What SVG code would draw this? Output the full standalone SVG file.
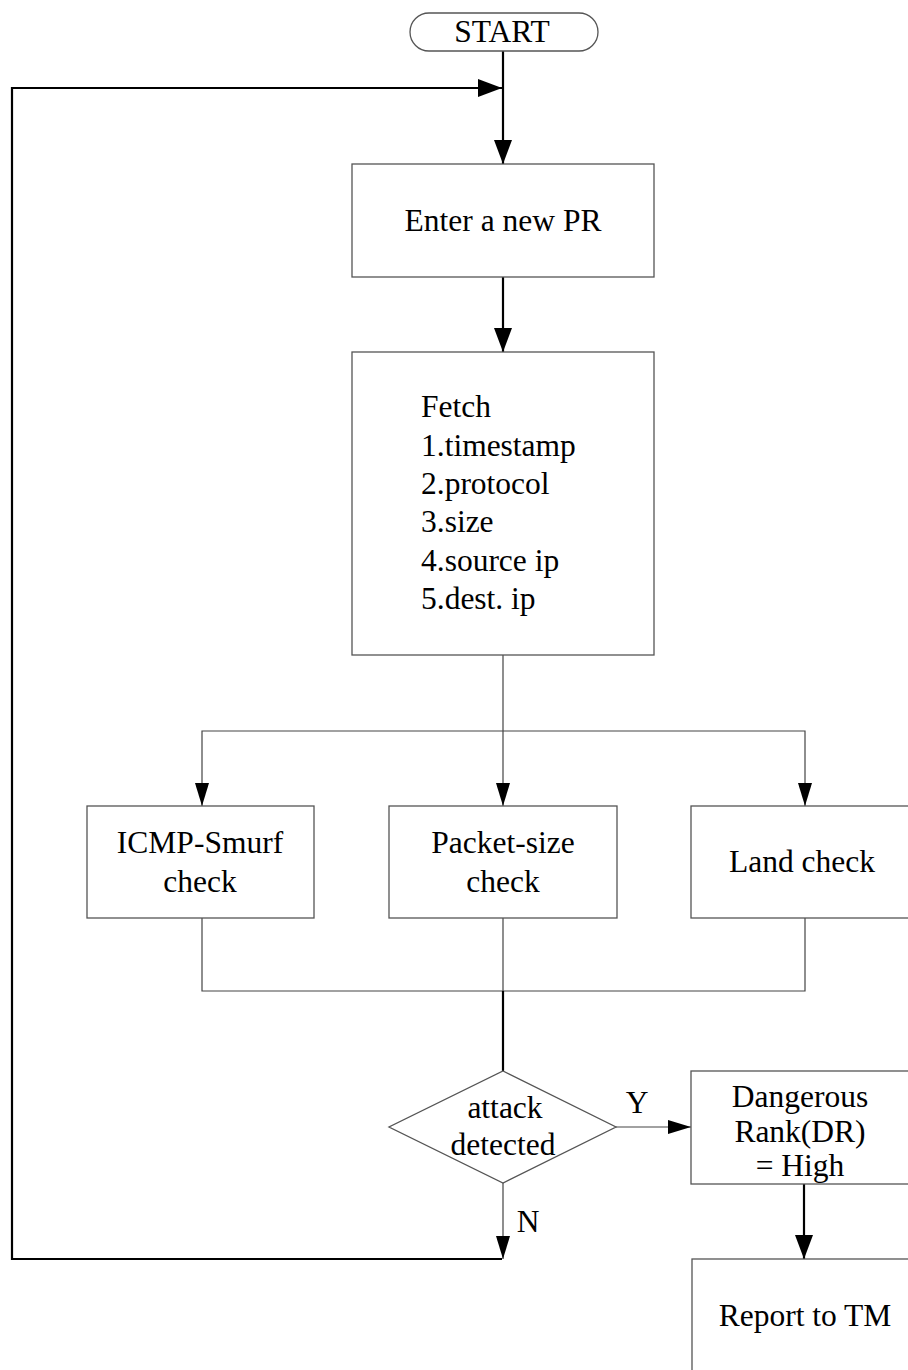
<svg xmlns="http://www.w3.org/2000/svg" width="908" height="1370" viewBox="0 0 908 1370">
  <style>
    .box { fill: #ffffff; stroke: #555555; stroke-width: 1.3; }
    .lbl { font-size: 31.5px; fill: #000000; text-anchor: middle; }
    .left { text-anchor: start; }
    .thin { fill: none; stroke: #444444; stroke-width: 1.2; }
    .thick { fill: none; stroke: #000000; stroke-width: 2.2; }
  </style>
  <defs>
    <marker id="arrow" markerUnits="userSpaceOnUse" markerWidth="24" markerHeight="18" refX="24" refY="9" orient="auto">
      <path d="M0,0 L24,9 L0,18 z" fill="#000000"/>
    </marker>
    <marker id="arrowS" markerUnits="userSpaceOnUse" markerWidth="23" markerHeight="14" refX="23" refY="7" orient="auto">
      <path d="M0,0 L23,7 L0,14 z" fill="#000000"/>
    </marker>
  </defs>

  <rect width="908" height="1370" fill="#ffffff"/>

  <g font-family="Liberation Serif, Tinos, Times New Roman, DejaVu Serif, serif">
  <!-- connectors -->
  <g id="connectors">
    <path class="thick" d="M503,51 V164" marker-end="url(#arrow)"/>
    <path class="thick" d="M502,1259 H12 V88 H502" marker-end="url(#arrow)"/>
    <path class="thick" d="M503,277 V352" marker-end="url(#arrow)"/>
    <path class="thin" d="M503,655 V806" marker-end="url(#arrowS)"/>
    <path class="thin" d="M503,731 H202 V806" marker-end="url(#arrowS)"/>
    <path class="thin" d="M503,731 H805 V806" marker-end="url(#arrowS)"/>
    <path class="thin" d="M202,918 V991 H805 V918"/>
    <path class="thin" d="M503,918 V991"/>
    <path class="thick" d="M503,991 V1071"/>
    <path class="thin" d="M616,1127 H691" marker-end="url(#arrowS)"/>
    <path class="thin" d="M503,1183 V1259" marker-end="url(#arrowS)"/>
    <path class="thick" d="M804,1184 V1259" marker-end="url(#arrow)"/>
    <text class="lbl" x="637" y="1113">Y</text>
    <text class="lbl" x="528" y="1232">N</text>
  </g>

  <g id="start">
    <rect class="box" x="410" y="13" width="188" height="38" rx="19" ry="19"/>
    <text class="lbl" x="502" y="42" font-size="30">START</text>
  </g>

  <g id="enter-pr">
    <rect class="box" x="352" y="164" width="302" height="113"/>
    <text class="lbl" x="503" y="231">Enter a new PR</text>
  </g>

  <g id="fetch">
    <rect class="box" x="352" y="352" width="302" height="303"/>
    <text class="lbl left" x="421" y="417">Fetch</text>
    <text class="lbl left" x="421" y="456">1.timestamp</text>
    <text class="lbl left" x="421" y="494">2.protocol</text>
    <text class="lbl left" x="421" y="532">3.size</text>
    <text class="lbl left" x="421" y="571">4.source ip</text>
    <text class="lbl left" x="421" y="609">5.dest. ip</text>
  </g>

  <g id="icmp-smurf">
    <rect class="box" x="87" y="806" width="227" height="112"/>
    <text class="lbl" x="200" y="853">ICMP-Smurf</text>
    <text class="lbl" x="200" y="892">check</text>
  </g>

  <g id="packet-size">
    <rect class="box" x="389" y="806" width="228" height="112"/>
    <text class="lbl" x="503" y="853">Packet-size</text>
    <text class="lbl" x="503" y="892">check</text>
  </g>

  <g id="land">
    <rect class="box" x="691" y="806" width="240" height="112"/>
    <text class="lbl" x="802" y="872">Land check</text>
  </g>

  <g id="attack-detected">
    <polygon class="box" points="503,1071 616,1127 503,1183 389,1127"/>
    <text class="lbl" x="505" y="1118">attack</text>
    <text class="lbl" x="503" y="1155">detected</text>
  </g>

  <g id="danger-rank">
    <rect class="box" x="691" y="1071" width="240" height="113"/>
    <text class="lbl" x="800" y="1107">Dangerous</text>
    <text class="lbl" x="800" y="1142">Rank(DR)</text>
    <text class="lbl" x="800" y="1176">= High</text>
  </g>

  <g id="report">
    <rect class="box" x="692" y="1259" width="240" height="140"/>
    <text class="lbl" x="805" y="1326">Report to TM</text>
  </g>
  </g>
</svg>
